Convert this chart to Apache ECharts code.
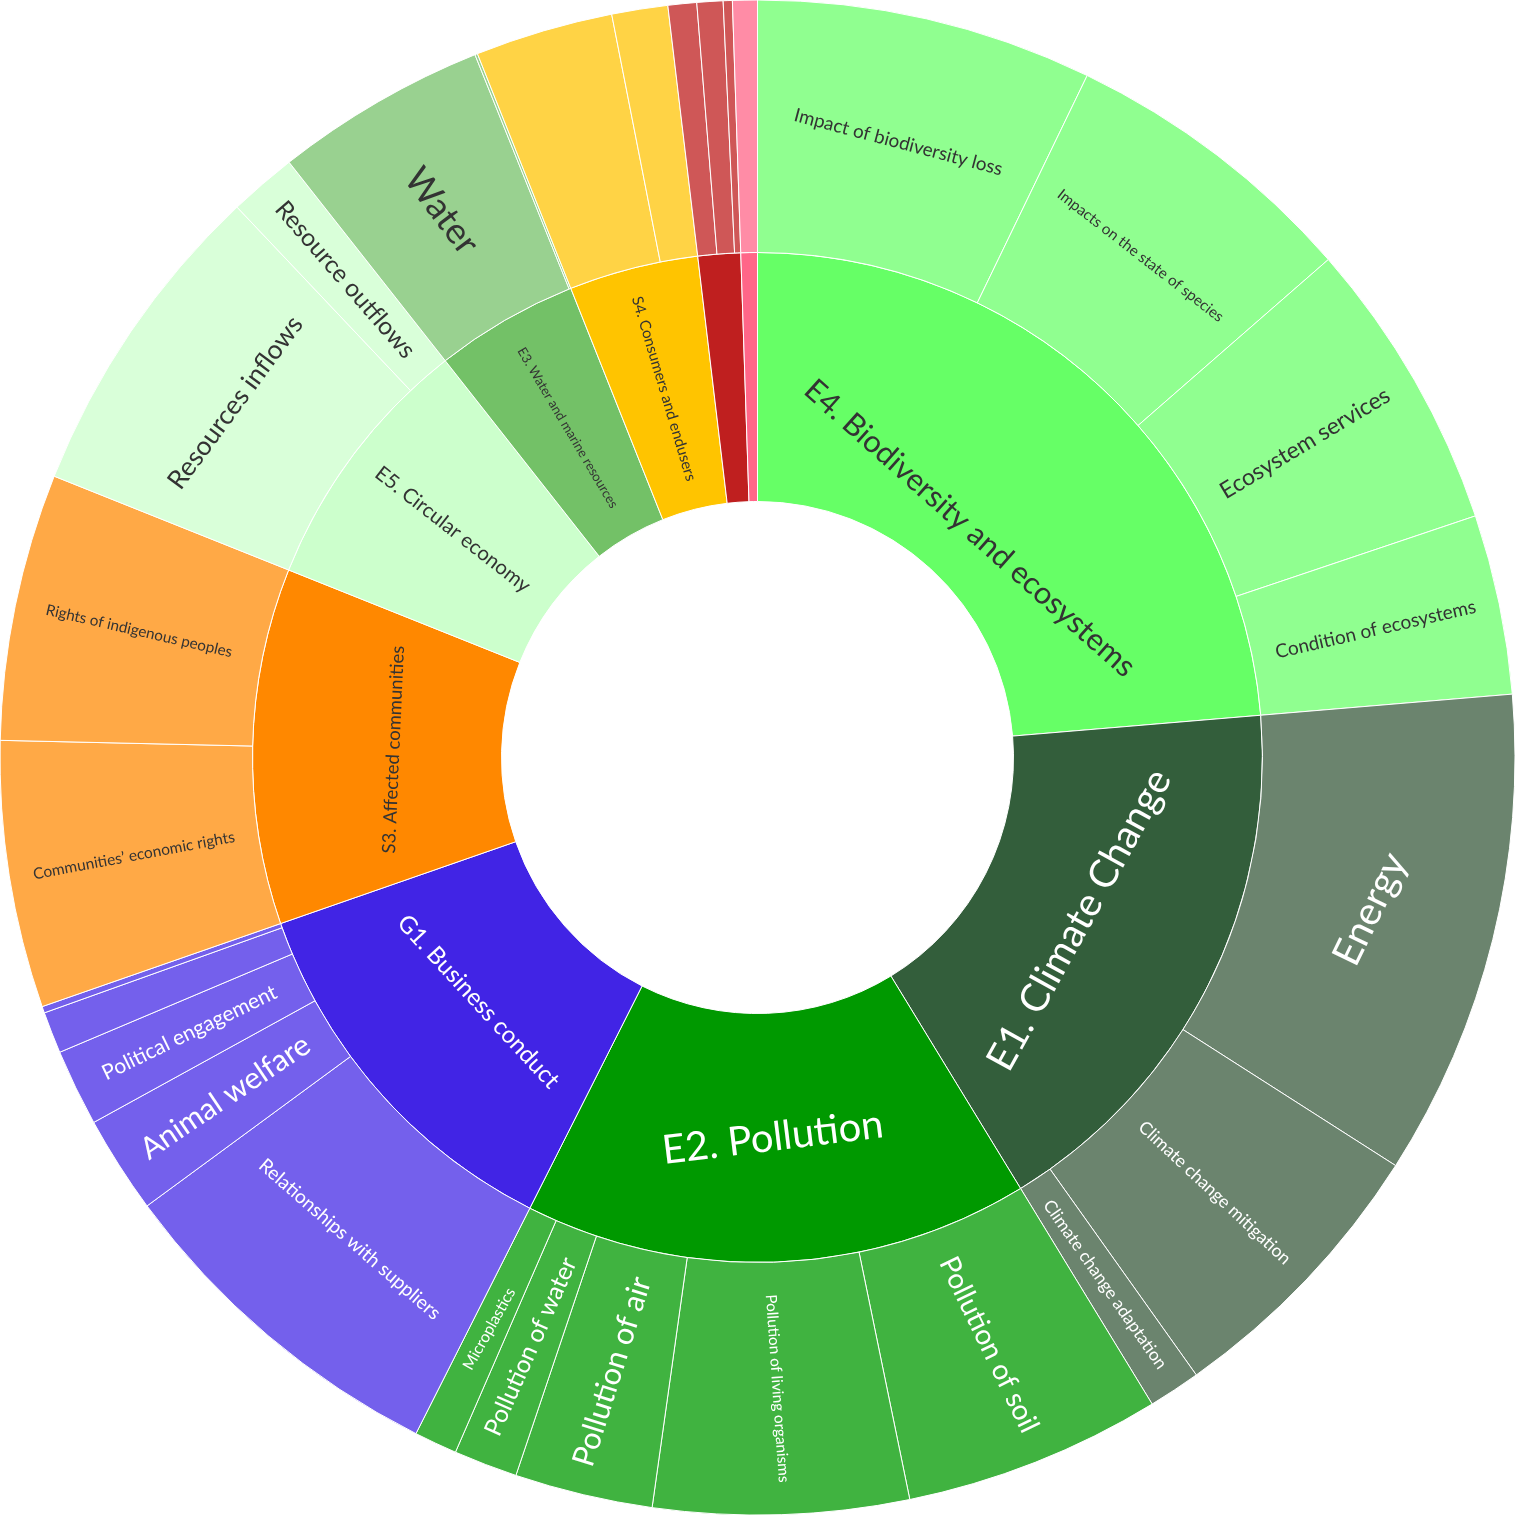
<!DOCTYPE html>
<html>
<head>
<meta charset="utf-8">
<title>Sunburst</title>
<script src="https://cdn.jsdelivr.net/npm/echarts@6/dist/echarts.min.js"></script>
<style>
  html, body { margin: 0; padding: 0; background: #fff; }
  #chart { width: 1515px; height: 1515px; }
</style>
</head>
<body>
<div id="chart"></div>
<script>
var e4Names = ['Impact of biodiversity loss', 'Impacts on the state of species', 'Ecosystem services', 'Condition of ecosystems'];
var e4Values = [25.8, 23.1, 22.5, 13.8];
var e1Names = ['Energy', 'Climate change mitigation', 'Climate change adaptation'];
var e1Values = [37.4, 22.0, 4.0];
var e2Names = ['Pollution of soil', 'Pollution of living organisms', 'Pollution of air', 'Pollution of water', 'Microplastics'];
var e2Values = [19.8, 19.6, 10.6, 4.9, 3.3];
var g1Names = ['Relationships with suppliers', 'Animal welfare', 'Political engagement', '', ''];
var g1Values = [26.9, 7.5, 5.9, 3.2, 0.5];
var s3Names = ['Communities\u2019 economic rights', 'Rights of indigenous peoples'];
var s3Values = [20.5, 20.5];
var e5Names = ['Resources inflows', 'Resource outflows'];
var e5Values = [24.8, 5.2];
var e3Names = ['Water', ''];
var e3Values = [16.3, 0.2];
var s4Names = ['', ''];
var s4Values = [10.6, 4.3];
var redNames = ['', '', ''];
var redValues = [2.2, 2.0, 0.7];
var pinkNames = [''];
var pinkValues = [1.9];

var groupNames = ['E4. Biodiversity and ecosystems', 'E1. Climate Change', 'E2. Pollution', 'G1. Business conduct',
  'S3. Affected communities', 'E5. Circular economy', 'E3. Water and marine resources', 'S4. Consumers and endusers', '', ''];
var groupChildNames = [e4Names, e1Names, e2Names, g1Names, s3Names, e5Names, e3Names, s4Names, redNames, pinkNames];
var groupChildValues = [e4Values, e1Values, e2Values, g1Values, s3Values, e5Values, e3Values, s4Values, redValues, pinkValues];

var groupColors = ['#66ff66', '#335e3b', '#009900', '#4124e5', '#ff8800', '#ccffcc', '#73c167', '#ffc400', '#bf1f1f', '#ff6688'];
var leafColors = ['#90ff90', '#6b846e', '#40b340', '#7460ec', '#ffa946', '#d9ffd9', '#99d190', '#ffd345', '#cf5757', '#ff8ca6'];
var textColors = ['#333', '#fff', '#fff', '#fff', '#333', '#333', '#333', '#333', '#fff', '#fff'];

// size, rotate, shift (px along the text's own vertical, + is down)
var labelStyles = {
  'E4. Biodiversity and ecosystems': [30.7, -41.6, 71],
  'E1. Climate Change': [39.4, 61, -24],
  'E2. Pollution': [40, 7, 0],
  'G1. Business conduct': [24, -47.3, -12],
  'S3. Affected communities': [18.5, 87.5, 18],
  'E5. Circular economy': [20.5, -38, 0],
  'E3. Water and marine resources': [13.2, -59.3, 0],
  'S4. Consumers and endusers': [15.2, -73.4, 0],
  'Impact of biodiversity loss': [18.8, -14.8, 0],
  'Impacts on the state of species': [15.2, -37.8, 0],
  'Ecosystem services': [23, 31, 0],
  'Condition of ecosystems': [19, 13, 0],
  'Energy': [39.4, 64, 0],
  'Climate change mitigation': [17.6, -43, 0],
  'Climate change adaptation': [17.3, -55, 0],
  'Pollution of soil': [28.2, -64, 0],
  'Pollution of living organisms': [15.3, -86, 0],
  'Pollution of air': [30.6, 72.5, 0],
  'Pollution of water': [24.5, 66, 0],
  'Microplastics': [15.7, 60.9, 0],
  'Relationships with suppliers': [19.2, -41, 0],
  'Animal welfare': [30.2, 34, 0],
  'Political engagement': [21, 25.8, 0],
  'Communities\u2019 economic rights': [15.5, 10.6, 0],
  'Rights of indigenous peoples': [15.2, -13, 0],
  'Resources inflows': [26.4, 53.5, 0],
  'Resource outflows': [24.6, -49, 0],
  'Water': [36, -53, 0]
};

function makeLabel(name, color) {
  var s = labelStyles[name];
  if (!s) return { show: false };
  var label = { show: true, color: color, fontSize: s[0], rotate: s[1] };
  // push the text off the ring's middle with padding on one side
  if (s[2] > 0) {
    label.verticalAlign = 'top';
    label.padding = [s[2] - s[0] * 0.6, 0, 0, 0];
  } else if (s[2] < 0) {
    label.verticalAlign = 'bottom';
    label.padding = [0, 0, -s[2] - s[0] * 0.6, 0];
  }
  return label;
}

var data = groupNames.map(function (name, i) {
  return {
    name: name,
    itemStyle: { color: groupColors[i] },
    label: makeLabel(name, textColors[i]),
    children: groupChildNames[i].map(function (child, j) {
      return {
        name: child,
        value: groupChildValues[i][j],
        itemStyle: { color: leafColors[i] },
        label: makeLabel(child, textColors[i])
      };
    })
  };
});

var chart = echarts.init(document.getElementById('chart'), null, { renderer: 'canvas' });
chart.setOption({
  animation: false,
  series: [{
    type: 'sunburst',
    center: ['50%', '50%'],
    startAngle: 90,
    clockwise: true,
    sort: null,
    nodeClick: false,
    silent: true,
    data: data,
    itemStyle: { borderColor: '#fff', borderWidth: 1 },
    label: { fontFamily: 'Lato, sans-serif', position: 'inside', align: 'center' },
    levels: [
      {},
      { r0: 256, r: 505 },
      { r0: 505, r: 757.5 }
    ]
  }]
});
</script>
</body>
</html>
